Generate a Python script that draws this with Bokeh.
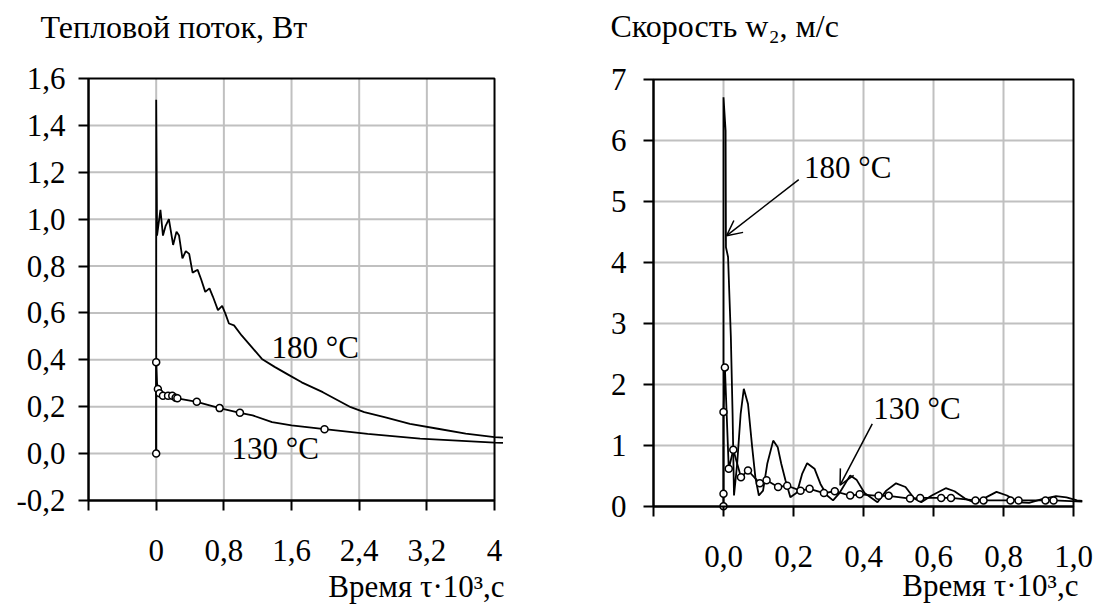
from bokeh.plotting import figure
from bokeh.layouts import row
from bokeh.models import (Range1d, FixedTicker, CustomJSTickFormatter, Label,
                          Arrow, OpenHead)
from bokeh.embed import file_html
from bokeh.resources import INLINE

FONT = "Liberation Serif"
FS = "31px"
FS_TITLE = "32px"
GRID = "#c0c0c0"

# ---------------- left chart: heat flux ----------------
Q_TITLE = "Тепловой поток, Вт"
X_TITLE = "Время τ·10³,с"
Q_XTICKS = [-0.8, 0.0, 0.8, 1.6, 2.4, 3.2, 4.0]
Q_XLABELS = ["", "0", "0,8", "1,6", "2,4", "3,2", "4"]
Q_YTICKS = [-0.2, 0.0, 0.2, 0.4, 0.6, 0.8, 1.0, 1.2, 1.4, 1.6]
Q_YLABELS = ["-0,2", "0,0", "0,2", "0,4", "0,6", "0,8", "1,0", "1,2", "1,4", "1,6"]

q180_t = [0.0, 0.0, 0.01, 0.05, 0.08, 0.11, 0.15, 0.20, 0.24, 0.27, 0.31, 0.35,
          0.39, 0.43, 0.49, 0.53, 0.58, 0.63, 0.67, 0.73, 0.78, 0.82, 0.86, 0.92,
          1.01, 1.13, 1.25, 1.40, 1.56, 1.72, 1.97, 2.30, 2.46, 2.71, 3.00, 3.33,
          3.66, 4.00, 4.10]
q180_v = [0.0, 1.51, 0.93, 1.04, 0.93, 0.97, 1.00, 0.89, 0.947, 0.93, 0.833, 0.864,
          0.852, 0.772, 0.784, 0.745, 0.69, 0.705, 0.67, 0.612, 0.63, 0.595, 0.555, 0.547,
          0.504, 0.454, 0.404, 0.37, 0.337, 0.304, 0.262, 0.198, 0.177, 0.155, 0.127, 0.106,
          0.085, 0.07, 0.068]

q130_t = [0.0, 0.0, 0.01, 0.02, 0.04, 0.08, 0.14, 0.19, 0.23, 0.25, 0.48, 0.75,
          0.99, 1.14, 1.37, 1.60, 1.99, 2.50, 3.12, 4.00, 4.10]
q130_v = [0.0, 0.39, 0.30, 0.276, 0.257, 0.247, 0.247, 0.247, 0.238, 0.236, 0.221, 0.194,
          0.174, 0.163, 0.134, 0.12, 0.104, 0.084, 0.064, 0.047, 0.046]
q130_mark_t = [0.0, 0.0, 0.02, 0.04, 0.08, 0.14, 0.19, 0.23, 0.25, 0.48, 0.75, 0.99, 1.99]
q130_mark_v = [0.0, 0.39, 0.276, 0.257, 0.247, 0.247, 0.247, 0.238, 0.236, 0.221, 0.194,
               0.174, 0.104]

# ---------------- right chart: velocity ----------------
W_TITLE = "Скорость w₂, м/с"
W_XTICKS = [-0.2, 0.0, 0.2, 0.4, 0.6, 0.8, 1.0]
W_XLABELS = ["", "0,0", "0,2", "0,4", "0,6", "0,8", "1,0"]
W_YTICKS = [0, 1, 2, 3, 4, 5, 6, 7]
W_YLABELS = ["0", "1", "2", "3", "4", "5", "6", "7"]

w180_t = [0.0, 0.0, 0.006, 0.007, 0.013, 0.021, 0.026, 0.030, 0.039, 0.049, 0.058,
          0.070, 0.082, 0.091, 0.101, 0.113, 0.125, 0.142, 0.155, 0.165, 0.177, 0.191,
          0.210, 0.225, 0.239, 0.260, 0.277, 0.296, 0.313, 0.330, 0.362, 0.380, 0.403,
          0.440, 0.465, 0.493, 0.520, 0.545, 0.565, 0.595, 0.635, 0.660, 0.690, 0.715,
          0.750, 0.780, 0.810, 0.843, 0.873, 0.910, 0.950, 0.980, 1.010, 1.025]
w180_v = [0.0, 6.71, 6.16, 4.25, 4.09, 2.78, 1.50, 0.18, 0.70, 1.52, 1.93,
          1.68, 0.97, 0.48, 0.18, 0.26, 0.70, 1.08, 0.97, 0.70, 0.43, 0.15,
          0.23, 0.54, 0.71, 0.62, 0.37, 0.18, 0.10, 0.21, 0.51, 0.44, 0.22,
          0.07, 0.26, 0.38, 0.32, 0.13, 0.07, 0.18, 0.30, 0.25, 0.13, 0.07,
          0.15, 0.24, 0.18, 0.07, 0.06, 0.12, 0.17, 0.15, 0.10, 0.09]

w130_t = [0.0, 0.0, 0.0, 0.004, 0.015, 0.028, 0.05, 0.07, 0.104, 0.123, 0.156, 0.182,
          0.22, 0.246, 0.287, 0.318, 0.362, 0.389, 0.443, 0.472, 0.533, 0.562, 0.622,
          0.65, 0.72, 0.743, 0.82, 0.843, 0.92, 0.943, 1.025]
w130_v = [0.005, 0.21, 1.55, 2.28, 0.62, 0.93, 0.48, 0.59, 0.38, 0.43, 0.32, 0.34,
          0.26, 0.29, 0.22, 0.25, 0.18, 0.20, 0.175, 0.175, 0.13, 0.14, 0.14,
          0.14, 0.10, 0.10, 0.10, 0.10, 0.10, 0.10, 0.08]
w130_mark_t = w130_t[:-1]
w130_mark_v = w130_v[:-1]


def tick_formatter(tick_values, tick_labels):
    return CustomJSTickFormatter(args=dict(tvals=tick_values, tlabs=tick_labels), code="""
        let best = 0, bd = Infinity;
        for (let i = 0; i < tvals.length; i++) {
            const d = Math.abs(tvals[i] - tick);
            if (d < bd) { bd = d; best = i; }
        }
        return tlabs[best];
    """)


def make_chart(width, height, xticks, xlabels, yticks, ylabels, xr, yr,
               ystandoff, xstandoff):
    # the frame fills the whole canvas; axes sit at fixed data locations
    p = figure(width=width, height=height,
               x_range=Range1d(*xr), y_range=Range1d(*yr),
               output_backend="svg", toolbar_location=None,
               min_border_left=0, min_border_right=0,
               min_border_top=0, min_border_bottom=0)
    p.outline_line_color = None
    p.grid.visible = False
    p.background_fill_color = "white"
    p.border_fill_color = "white"

    for ax, ticks, labels, standoff, loc in (
            (p.xaxis[0], xticks, xlabels, xstandoff, yticks[0]),
            (p.yaxis[0], yticks, ylabels, ystandoff, xticks[0])):
        ax.fixed_location = loc
        ax.ticker = FixedTicker(ticks=ticks)
        ax.formatter = tick_formatter(ticks, labels)
        ax.bounds = (ticks[0], ticks[-1])
        ax.axis_line_width = 2
        ax.axis_line_color = "black"
        ax.major_tick_in = 0
        ax.major_tick_out = 10
        ax.major_tick_line_width = 2
        ax.major_tick_line_color = "black"
        ax.minor_tick_line_color = None
        ax.major_label_standoff = standoff
        ax.major_label_text_font = FONT
        ax.major_label_text_font_size = FS
        ax.major_label_text_color = "black"

    # grid lines (inner ticks only; frame edges are drawn in black)
    gx = xticks[1:-1]
    gy = yticks[1:-1]
    p.segment(x0=gx, x1=gx, y0=[yticks[0]] * len(gx), y1=[yticks[-1]] * len(gx),
              line_color=GRID, line_width=2)
    p.segment(x0=[xticks[0]] * len(gy), x1=[xticks[-1]] * len(gy), y0=gy, y1=gy,
              line_color=GRID, line_width=2)
    # frame box
    p.quad(left=xticks[0], right=xticks[-1], bottom=yticks[0], top=yticks[-1],
           fill_color=None, line_color="black", line_width=2)
    return p


def text(p, x, y, s, align="left", size=FS):
    p.add_layout(Label(x=x, y=y, text=s, text_font=FONT, text_font_size=size,
                       text_color="black", text_align=align, text_baseline="middle"))


# left figure (canvas 548 x 604)
p1 = make_chart(548, 604, Q_XTICKS, Q_XLABELS, Q_YTICKS, Q_YLABELS,
                (-1.8409, 4.6382), (-0.6438, 1.9330), ystandoff=13, xstandoff=30)
p1.line(q180_t, q180_v, line_color="black", line_width=1.8)
p1.line(q130_t, q130_v, line_color="black", line_width=1.8)
p1.scatter(q130_mark_t, q130_mark_v, marker="circle", size=7, fill_color="white",
           line_color="black", line_width=1.5)
text(p1, 1.363, 0.454, "180 °C")
text(p1, 0.89, 0.02, "130 °C")
text(p1, -1.368, 1.820, Q_TITLE, size=FS_TITLE)
text(p1, 4.118, -0.565, X_TITLE, align="right")

# right figure (canvas 550 x 604)
p2 = make_chart(550, 604, W_XTICKS, W_XLABELS, W_YTICKS, W_YLABELS,
                (-0.5, 1.0714), (-1.6066, 8.2951), ystandoff=17, xstandoff=30)
p2.line(w180_t, w180_v, line_color="black", line_width=1.8)
p2.line(w130_t, w130_v, line_color="black", line_width=1.8)
p2.scatter(w130_mark_t, w130_mark_v, marker="circle", size=7, fill_color="white",
           line_color="black", line_width=1.5)
text(p2, 0.23, 5.56, "180 °C")
text(p2, 0.428, 1.60, "130 °C")
p2.add_layout(Arrow(end=OpenHead(size=15, line_width=1.5, line_color="black"),
                    x_start=0.215, y_start=5.36, x_end=0.009, y_end=4.44,
                    line_width=1.5, line_color="black"))
p2.add_layout(Arrow(end=OpenHead(size=15, line_width=1.5, line_color="black"),
                    x_start=0.425, y_start=1.356, x_end=0.333, y_end=0.35,
                    line_width=1.5, line_color="black"))
text(p2, -0.323, 7.870, W_TITLE, size=FS_TITLE)
text(p2, 1.014, -1.302, X_TITLE, align="right")

layout = row(p1, p2)
open("out.html", "w").write(file_html(layout, INLINE))
